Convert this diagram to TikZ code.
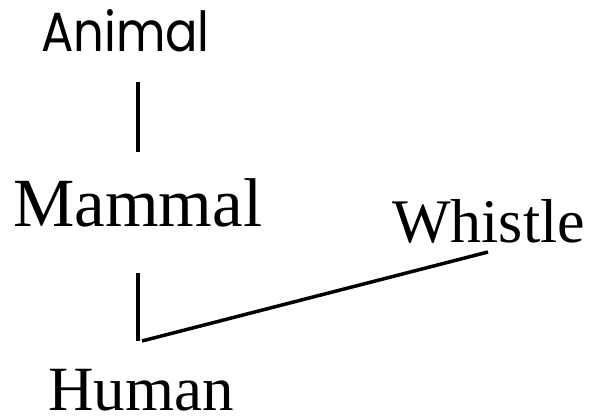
\documentclass[tikz,border=0pt]{standalone}
\usepackage{fontspec}
\setmainfont{Liberation Serif}
\newfontfamily\geofont{Poppins}
\begin{document}
\begin{tikzpicture}[x=1pt,y=-1pt,
  serifword/.style={inner sep=0pt,anchor=base west,font=\fontsize{69}{72}\selectfont},
  link/.style={line width=3.5pt,line cap=butt}]
\useasboundingbox (0,0) rectangle (592,419);
\node[inner sep=0pt,anchor=base west,font=\geofont\fontsize{48}{52}\selectfont] (animal) at (41,52) {\scalebox{1}[1.15]{Animal}};
\node[serifword] (mammal) at (13,227) {Mammal};
\node[serifword,font=\fontsize{62}{66}\selectfont] (whistle) at (392,243) {Whistle};
\node[serifword,font=\fontsize{63}{66}\selectfont] (human) at (48,411) {Human};
\coordinate (a1) at (138,82);
\coordinate (a2) at (138,152);
\coordinate (m1) at (138,273);
\coordinate (m2) at (138,341);
\coordinate (h1) at (142,341);
\coordinate (w1) at (488,252);
\draw[link] (a1) -- (a2);
\draw[link] (m1) -- (m2);
\draw[link] (h1) -- (w1);
\end{tikzpicture}
\end{document}
